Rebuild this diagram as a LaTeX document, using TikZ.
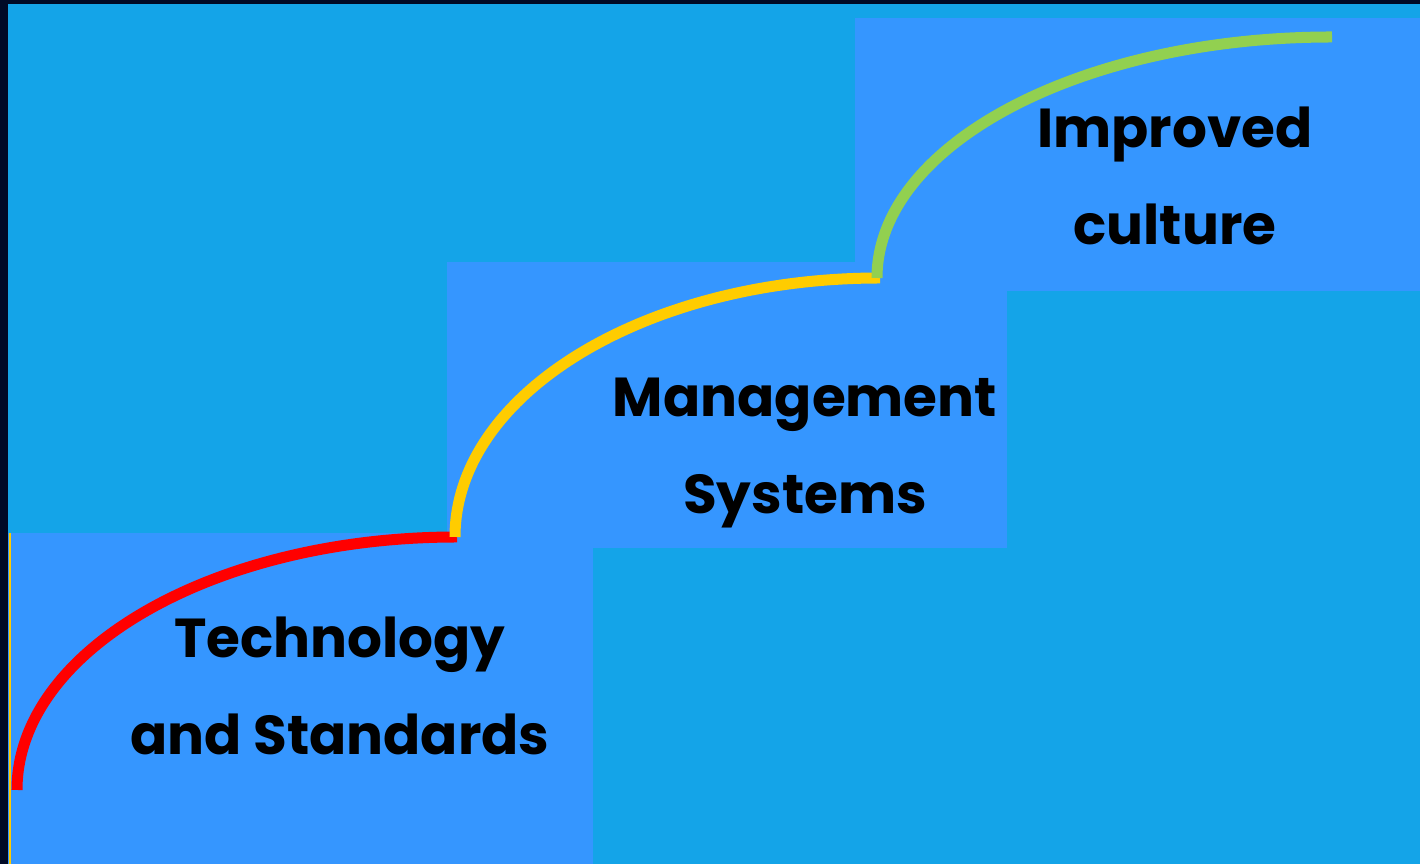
\documentclass[tikz,border=0pt]{standalone}
\usepackage{fontspec}
\setmainfont{Poppins}
\definecolor{navy}{HTML}{000A26}
\definecolor{skyfill}{HTML}{14A4E8}
\definecolor{stepblue}{HTML}{3596FF}
\definecolor{stepred}{HTML}{FF0000}
\definecolor{stepyellow}{HTML}{FFCC00}
\definecolor{stepgreen}{HTML}{92D050}
\begin{document}
\begin{tikzpicture}[x=0.01cm,y=0.01cm,
		stepbox/.style={fill=stepblue,draw=none},
		steparc/.style={line width=0.11cm,line cap=butt},
		steplabel/.style={font=\bfseries\fontsize{15.6}{27.6}\selectfont,align=center,text=black}]
		
		\useasboundingbox (0,0) rectangle (1420,864);
		\fill[navy] (0,0) rectangle (1420,864);
		\fill[skyfill] (8,0) rectangle (1420,860);
		
		\fill[stepbox] (8,0) rectangle (593,331);
		\fill[stepbox] (447,316) rectangle (1007,602);
		\fill[stepbox] (855,573) rectangle (1420,846);
		\draw[stepyellow,line width=0.025cm] (10,0) -- (10,331);
		
		\coordinate (s1) at (17,74);
		\coordinate (s2) at (455,327);
		\coordinate (s3) at (877,586);
		
		\draw[steparc,stepred]    (s1) arc[start angle=180,end angle=90,x radius=440,y radius=253];
		\draw[steparc,stepyellow] (s2) arc[start angle=180,end angle=90,x radius=425,y radius=259];
		\draw[steparc,stepgreen]  (s3) arc[start angle=180,end angle=90,x radius=455,y radius=241];
		
		\node[steplabel] (tech) at (340,178) {Technology\\and Standards};
		\node[steplabel] (mgmt) at (805,411) {Management\\Systems};
		\node[steplabel] (cult) at (1175,688) {Improved\\culture};
		\end{tikzpicture}
\end{document}
